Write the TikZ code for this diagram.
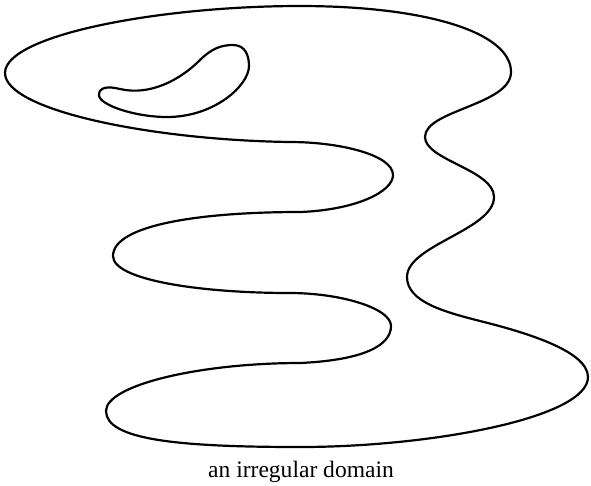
\documentclass[tikz,border=0pt]{standalone}
\usepackage{fontspec}
\setmainfont{Liberation Serif}
\begin{document}
\begin{tikzpicture}[x=0.02cm, y=-0.02cm, line width=1.25pt]
\useasboundingbox (0,0) rectangle (591,485);
\draw (300,6) .. controls (425,6) and (511,32) .. (511,72)
  .. controls (511,105) and (425,110) .. (425,137)
  .. controls (425,160) and (494,170) .. (494,197)
  .. controls (494,230) and (407,245) .. (407,277)
  .. controls (407,302) and (445,312) .. (480,321)
  .. controls (520,331) and (588,350) .. (588,377)
  .. controls (588,418) and (430,447) .. (300,447)
  .. controls (180,447) and (106,440) .. (106,411)
  .. controls (106,385) and (200,363) .. (300,363)
  .. controls (365,360) and (391,345) .. (391,326)
  .. controls (391,308) and (340,293) .. (290,293)
  .. controls (200,293) and (113,280) .. (113,256)
  .. controls (113,225) and (200,212) .. (300,212)
  .. controls (355,210) and (393,192) .. (393,175)
  .. controls (393,155) and (340,142) .. (290,142)
  .. controls (150,140) and (5,110) .. (5,73)
  .. controls (5,35) and (160,6) .. cycle;
\draw (99,95) .. controls (99,87) and (108,86) .. (120,89)
  .. controls (150,96) and (180,80) .. (200,60)
  .. controls (212,48) and (222,45) .. (233,45)
  .. controls (245,45) and (249,55) .. (249,66)
  .. controls (249,85) and (215,117) .. (167,117)
  .. controls (135,117) and (99,105) .. cycle;
\node[font=\fontsize{13.4}{16}\selectfont, anchor=base] (caption) at (301,477) {an irregular domain};
\end{tikzpicture}
\end{document}
